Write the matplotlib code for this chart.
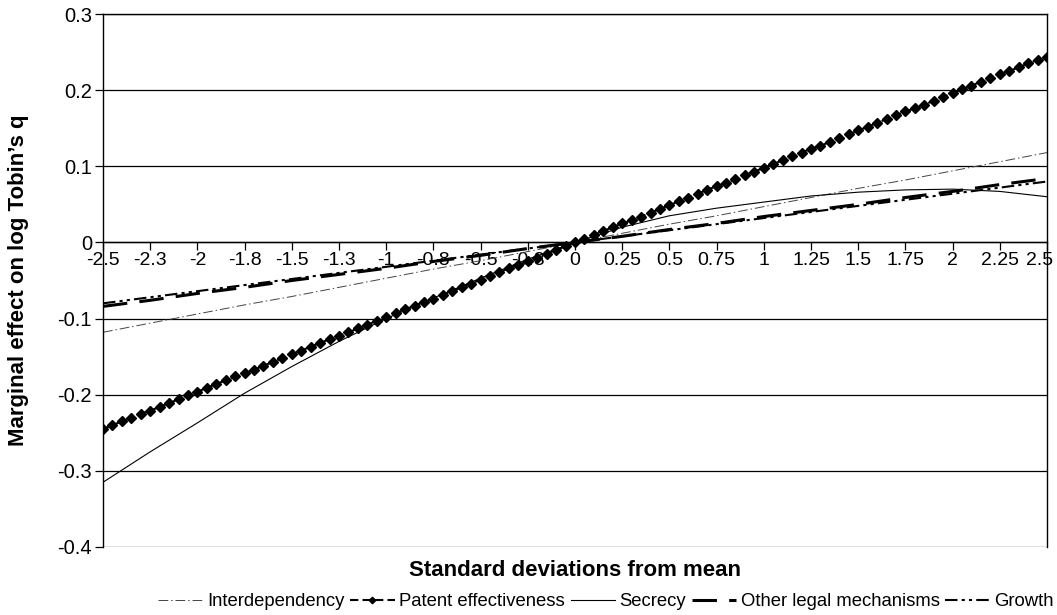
import numpy as np
import matplotlib.pyplot as plt
import matplotlib.transforms as mtransforms

plt.rcParams['font.family'] = ['Liberation Sans', 'DejaVu Sans']

# posisi kategori (simpangan baku dari rata-rata)
sd = [-2.5, -2.25, -2.0, -1.75, -1.5, -1.25, -1.0, -0.75, -0.5, -0.25, 0.0,
      0.25, 0.5, 0.75, 1.0, 1.25, 1.5, 1.75, 2.0, 2.25, 2.5]
sd_labels = ['-2.5', '-2.3', '-2', '-1.8', '-1.5', '-1.3', '-1', '-0.8', '-0.5', '-0.3', '0',
             '0.25', '0.5', '0.75', '1', '1.25', '1.5', '1.75', '2', '2.25', '2.5']

interdependency = [-0.118, -0.106, -0.094, -0.082, -0.071, -0.059, -0.047, -0.035, -0.024, -0.012, 0.0,
                   0.012, 0.024, 0.035, 0.047, 0.059, 0.071, 0.082, 0.094, 0.106, 0.118]
secrecy = [-0.315, -0.275, -0.237, -0.198, -0.163, -0.130, -0.100, -0.073, -0.047, -0.022, 0.0,
           0.020, 0.035, 0.045, 0.053, 0.061, 0.066, 0.069, 0.070, 0.067, 0.060]
other_legal = [-0.084, -0.076, -0.067, -0.059, -0.050, -0.042, -0.034, -0.025, -0.017, -0.008, 0.0,
               0.008, 0.017, 0.025, 0.034, 0.042, 0.050, 0.059, 0.067, 0.076, 0.084]
growth = [-0.080, -0.072, -0.064, -0.056, -0.048, -0.040, -0.032, -0.024, -0.016, -0.008, 0.0,
          0.008, 0.016, 0.024, 0.032, 0.040, 0.048, 0.056, 0.064, 0.072, 0.080]

# patent effectiveness digambar dengan titik rapat (tiap 0.05)
sd_fine = np.linspace(-2.5, 2.5, 101)
patent = [-0.245, -0.240, -0.235, -0.230, -0.225, -0.221, -0.216, -0.211, -0.206, -0.201,
          -0.196, -0.191, -0.186, -0.181, -0.176, -0.172, -0.167, -0.162, -0.157, -0.152,
          -0.147, -0.142, -0.137, -0.132, -0.127, -0.123, -0.118, -0.113, -0.108, -0.103,
          -0.098, -0.093, -0.088, -0.083, -0.078, -0.074, -0.069, -0.064, -0.059, -0.054,
          -0.049, -0.044, -0.039, -0.034, -0.029, -0.025, -0.020, -0.015, -0.010, -0.005,
          0.0,
          0.005, 0.010, 0.015, 0.020, 0.025, 0.029, 0.034, 0.039, 0.044, 0.049,
          0.054, 0.059, 0.064, 0.069, 0.074, 0.078, 0.083, 0.088, 0.093, 0.098,
          0.103, 0.108, 0.113, 0.118, 0.123, 0.127, 0.132, 0.137, 0.142, 0.147,
          0.152, 0.157, 0.162, 0.167, 0.172, 0.176, 0.181, 0.186, 0.191, 0.196,
          0.201, 0.206, 0.211, 0.216, 0.221, 0.225, 0.230, 0.235, 0.240, 0.243]

fig = plt.figure(figsize=(10.57, 6.15), dpi=100)
ax = fig.add_axes([103 / 1057, 1 - 547 / 615, 944 / 1057, 533 / 615])

ax.plot(sd, interdependency, color='#444444', lw=0.7, dashes=(10, 3, 1.5, 3), label='Interdependency')
ax.plot(sd_fine, patent, color='black', lw=1.5, dashes=(4, 2), marker='D', markersize=5.5,
        label='Patent effectiveness')
ax.plot(sd, secrecy, color='black', lw=0.8, label='Secrecy')
ax.plot(sd, other_legal, color='black', lw=2.2, dashes=(8, 4), label='Other legal mechanisms')
ax.plot(sd, growth, color='black', lw=1.5, dashes=(6, 2, 1.5, 2, 1.5, 2), label='Growth')

ax.set_xlim(-2.5, 2.5)
ax.set_ylim(-0.4, 0.3)
ax.set_yticks([-0.4, -0.3, -0.2, -0.1, 0, 0.1, 0.2, 0.3])
ax.set_yticklabels(['-0.4', '-0.3', '-0.2', '-0.1', '0', '0.1', '0.2', '0.3'])
ax.yaxis.grid(True, color='black', lw=0.9)
ax.set_axisbelow(True)

ax.set_xticks(sd)
ax.set_xticklabels(sd_labels)
ax.spines['bottom'].set_position(('data', 0))
ax.tick_params(axis='x', direction='out', length=6, width=0.9, labelsize=14, pad=1)
ax.tick_params(axis='y', direction='out', length=6, width=0.9, labelsize=14.5, pad=2)
for s in ax.spines.values():
    s.set_linewidth(1.0)

# label terakhir digeser sedikit ke kiri supaya tidak terpotong
last = ax.get_xticklabels()[-1]
last.set_transform(last.get_transform() + mtransforms.ScaledTranslation(-7 / 100, 0, fig.dpi_scale_trans))

ax.set_ylabel('Marginal effect on log Tobin\u2019s q', fontsize=16, fontweight='bold')
ax.yaxis.set_label_coords(-0.078, 0.5)
fig.text(575 / 1057, 1 - 571 / 615, 'Standard deviations from mean', ha='center', va='center',
         fontsize=16, fontweight='bold')

fig.legend(loc='center', bbox_to_anchor=(606 / 1057, 1 - 602 / 615), ncol=5, frameon=False,
           fontsize=13.3, handlelength=2.4, handletextpad=0.25, columnspacing=0.3, borderpad=0,
           markerscale=0.6)

fig.savefig('out.png', dpi=100)
